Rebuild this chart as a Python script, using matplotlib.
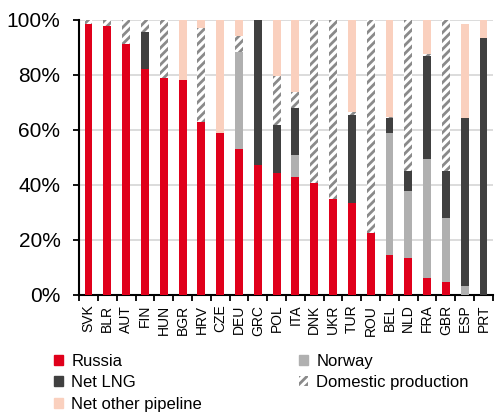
import matplotlib
matplotlib.use("Agg")
import matplotlib.pyplot as plt
import matplotlib.patches as mpatches
import numpy as np

plt.rcParams['font.family'] = ['Liberation Sans', 'DejaVu Sans']
plt.rcParams['hatch.linewidth'] = 2.0

countries = ["SVK", "BLR", "AUT", "FIN", "HUN", "BGR", "HRV", "CZE", "DEU", "GRC", "POL",
             "ITA", "DNK", "UKR", "TUR", "ROU", "BEL", "NLD", "FRA", "GBR", "ESP", "PRT"]
russia   = [98.5, 97.8, 91.4, 82.0, 79.0, 78.2, 63.0, 58.8, 53.1, 47.4, 44.4,
            42.9, 40.7, 34.9, 33.6, 22.7, 14.7, 13.3, 6.1, 4.6, 0.0, 0.0]
norway   = [0, 0, 0, 0, 0, 0, 0, 0, 35.4, 0, 0,
            8.0, 0, 0, 0, 0, 44.3, 24.6, 43.4, 23.3, 3.3, 0]
net_lng  = [0, 0, 0, 13.6, 0, 0, 0, 0, 0, 52.6, 17.3,
            17.2, 0, 0, 31.7, 0, 5.2, 7.2, 37.5, 17.2, 60.9, 93.6]
domestic = [1.5, 2.2, 8.6, 4.4, 21.0, 0, 34.1, 0, 5.8, 0, 17.9,
            5.8, 59.3, 65.1, 1.4, 77.3, 0.5, 54.9, 0.6, 54.9, 0, 0]
other    = [0, 0, 0, 0, 0, 21.8, 2.9, 41.2, 5.7, 0, 20.4,
            26.1, 0, 0, 33.3, 0, 35.3, 0, 12.4, 0, 34.3, 6.4]
yticks = [0, 20, 40, 60, 80, 100]

c_russia = "#E0001B"
c_norway = "#B0B0B0"
c_lng = "#404040"
c_other = "#FAD0BE"
c_hatch = "#8A8A8A"

fig = plt.figure(figsize=(5.04, 4.16), dpi=100)
ax = fig.add_axes([0.157, 0.291, 0.821, 0.661])

x = np.arange(len(countries))
w = 0.42
bottom = np.zeros(len(countries))
series = [
    (russia, dict(color=c_russia)),
    (norway, dict(color=c_norway)),
    (net_lng, dict(color=c_lng)),
    (domestic, dict(facecolor="white", edgecolor=c_hatch, hatch="////", linewidth=0)),
    (other, dict(color=c_other)),
]
for vals, kw in series:
    v = np.array(vals, dtype=float)
    ax.bar(x, v, w, bottom=bottom, zorder=3, **kw)
    bottom += v

ax.set_ylim(0, 100)
ax.set_xlim(-0.5, len(countries) - 0.5)
ax.set_yticks(yticks)
ax.set_yticklabels([f"{t}%" for t in yticks], fontsize=15)
ax.yaxis.grid(True, color="#D9D9D9", linewidth=1.3, zorder=0)
ax.set_axisbelow(True)
ax.tick_params(axis='y', length=4.5, width=1.3, pad=9)

ax.set_xticks(x)
ax.set_xticklabels(countries, rotation=90, fontsize=10)
ax.set_xticks(np.arange(-0.5, len(countries)), minor=True)
ax.tick_params(axis='x', which='major', length=0, pad=7)
ax.tick_params(axis='x', which='minor', length=4, width=1.3, direction='out')

for s in ["top", "right"]:
    ax.spines[s].set_visible(False)
for s in ["left", "bottom"]:
    ax.spines[s].set_linewidth(1.5)
    ax.spines[s].set_color("black")

handles = [
    mpatches.Patch(color=c_russia, label="Russia"),
    mpatches.Patch(color=c_lng, label="Net LNG"),
    mpatches.Patch(color=c_other, label="Net other pipeline"),
    mpatches.Patch(color=c_norway, label="Norway"),
    mpatches.Patch(facecolor="white", edgecolor=c_hatch, hatch="////", linewidth=0,
                   label="Domestic production"),
]
fig.legend(handles=handles, loc="upper left", bbox_to_anchor=(0.107, 0.15),
           ncol=2, frameon=False, fontsize=12, handlelength=0.55, handleheight=0.55,
           handletextpad=0.5, labelspacing=0.4, columnspacing=5.8,
           borderpad=0, borderaxespad=0)

fig.savefig("out.png", dpi=100)
